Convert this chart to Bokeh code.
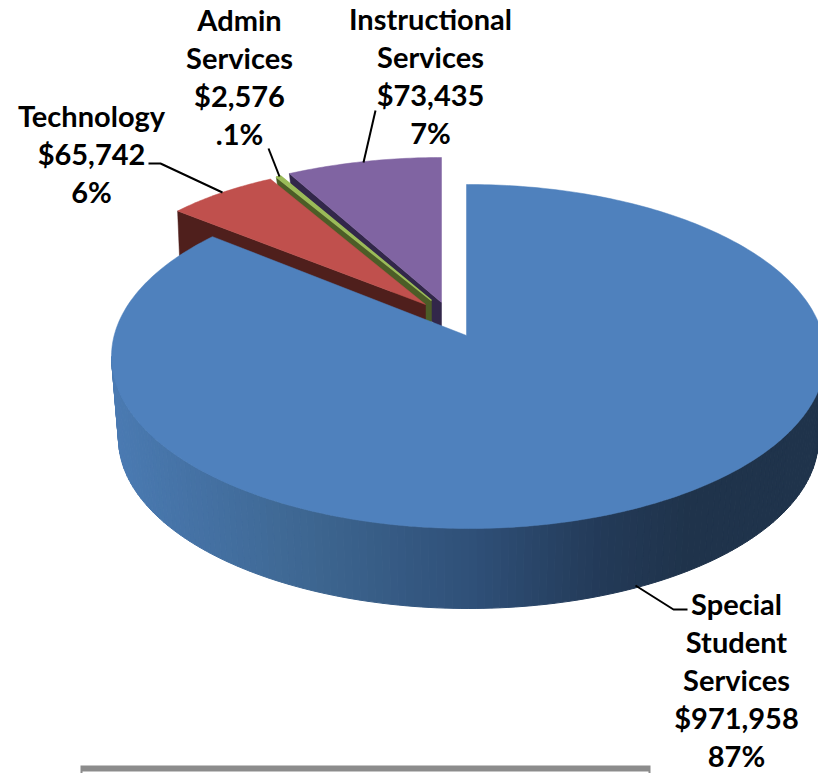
import math
from bokeh.plotting import figure
from bokeh.models import ColumnDataSource, Range1d
from bokeh.core.properties import value
from bokeh.embed import file_html
from bokeh.resources import INLINE

# ---- data ----
categories = ["Special Student Services", "Technology", "Admin Services", "Instructional Services"]
amounts = [971958, 65742, 2576, 73435]
percent_labels = ["87%", "6%", ".1%", "7%"]
name_lines = [["Special", "Student", "Services"], ["Technology"], ["Admin", "Services"], ["Instructional", "Services"]]

# ---- styles / geometry of the projected disc, in picture pixels ----
W, H = 818, 773
top_colors = ["#4f81bd", "#c0504d", "#9bbb59", "#8064a2"]
wall_colors = [None, "#4f1f1c", "#4c5d27", "#32274a"]
# (apex x, apex y, ellipse cx, cy, rx, ry, wall depth at apex, wall depth at rim)
shapes = [
    (466, 335, 468, 356, 357, 172, 80, 80),
    (425, 304, 398, 315, 308, 150, 40, 48),
    (431, 300, 413, 322, 330, 160, 26, 14),
    (441, 302, 441, 347, 378, 190, 28, 17),
]
low_ellipse = (468, 438, 350, 170)
label_pos = [(736, 603), (91, 115), (239, 19), (430, 18)]
LINE_H = 38
leaders = [
    ([635, 673, 687], [585, 609, 609]),
    ([148, 160, 222], [163, 163, 192]),
    ([268, 279], [148, 176]),
    ([375, 363], [110, 162]),
]

p = figure(width=W, height=H, output_backend="svg", toolbar_location=None,
           x_range=Range1d(0, W), y_range=Range1d(H, 0),
           x_axis_type=None, y_axis_type=None, min_border=0,
           outline_line_color=None, background_fill_color="white", border_fill_color="white")
p.grid.visible = False

total = sum(amounts)
sweeps = [a / total * 2 * math.pi for a in amounts]
starts = [sum(sweeps[:i]) for i in range(len(sweeps))]


def on_ellipse(shape, t):
    cx, cy, rx, ry = shape[2:6]
    return cx + rx * math.sin(t), cy - ry * math.cos(t)


def arc(shape, a, b, n=90):
    return [on_ellipse(shape, a + (b - a) * i / n) for i in range(n + 1)]


# small slices, back to front: wall of the cut edge, then top face
for i in [3, 2, 1]:
    s = shapes[i]
    ax, ay, depth, rim = s[0], s[1], s[6], s[7]
    x0, y0 = on_ellipse(s, starts[i])
    p.patch([x0, ax, ax, x0 + 2], [y0, ay, ay + depth, y0 + rim],
            fill_color=wall_colors[i], line_color=wall_colors[i], line_width=0.5)
    pts = arc(s, starts[i], starts[i] + sweeps[i], 40)
    edge = 1.5 if i == 2 else 0.5
    p.patch([ax] + [q[0] for q in pts], [ay] + [q[1] for q in pts],
            fill_color=top_colors[i], line_color=top_colors[i], line_width=edge)

# curved wall of the big slice
stops = [(111, (74, 122, 178)), (300, (62, 103, 146)), (470, (47, 80, 120)),
         (600, (35, 58, 88)), (690, (31, 51, 75)), (818, (31, 51, 75))]


def wall_color(x):
    for (x0, c0), (x1, c1) in zip(stops, stops[1:]):
        if x <= x1:
            f = max(0.0, (x - x0) / (x1 - x0))
            return "#%02x%02x%02x" % tuple(round(c0[k] + (c1[k] - c0[k]) * f) for k in range(3))
    return "#1f334b"


big = shapes[0]
lo = (0, 0) + low_ellipse
N = 140
xs, ys, cols = [], [], []
for i in range(N):
    a = math.pi / 2 + math.pi * i / N
    b = math.pi / 2 + math.pi * (i + 1) / N
    t0, t1 = on_ellipse(big, a), on_ellipse(big, b)
    l0, l1 = on_ellipse(lo, a), on_ellipse(lo, b)
    xs.append([t0[0], t1[0], l1[0], l0[0]])
    ys.append([t0[1], t1[1], l1[1], l0[1]])
    cols.append(wall_color((t0[0] + t1[0]) / 2))
p.patches(xs, ys, fill_color=cols, line_color=cols, line_width=1)

# top face of the big slice; its straight edge runs straight up from the apex
pts = arc(big, starts[0], starts[0] + sweeps[0], 360)
px = [big[0], big[0]] + [q[0] for q in pts]
py = [big[1], pts[0][1]] + [q[1] for q in pts]
p.patch(px, py, fill_color=top_colors[0], line_color=top_colors[0], line_width=0.5)

# leader lines
for lx, ly in leaders:
    p.line(lx, ly, line_color="black", line_width=2)

# labels
tx, ty, tt = [], [], []
for i, (x, y) in enumerate(label_pos):
    lines = name_lines[i] + [f"${amounts[i]:,}", percent_labels[i]]
    for j, line in enumerate(lines):
        tx.append(x)
        ty.append(y + j * LINE_H)
        tt.append(line)
p.text(x="x", y="y", text="t", source=ColumnDataSource(dict(x=tx, y=ty, t=tt)),
       text_font=value("Lato"), text_font_style="bold", text_font_size="29px",
       text_align="center", text_baseline="middle", text_color="black")

# grey frame cut by the bottom of the picture
p.quad(left=[80], right=[650], top=[765], bottom=[H], fill_color="#8c8c8c", line_color=None)
p.quad(left=[82], right=[648], top=[771], bottom=[H], fill_color="white", line_color=None)

open("out.html", "w").write(file_html(p, INLINE))
